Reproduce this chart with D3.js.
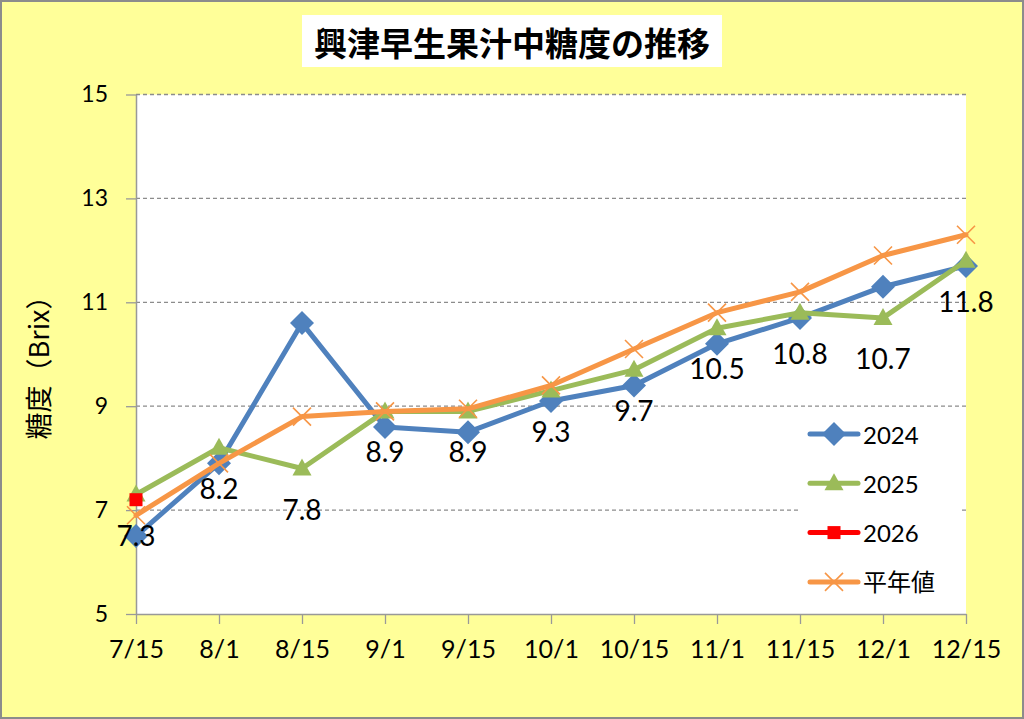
<!DOCTYPE html>
<html><head><meta charset="utf-8">
<script src="https://cdn.jsdelivr.net/npm/d3@7"></script>
<style>
html,body{margin:0;padding:0;background:#fff;}
svg{display:block;}
</style></head>
<body>
<script>
const categories = ["7/15","8/1","8/15","9/1","9/15","10/1","10/15","11/1","11/15","12/1","12/15"];
const s2024 = [6.5,7.9,10.6,8.6,8.5,9.1,9.4,10.2,10.7,11.3,11.7];
const s2025 = [7.3,8.2,7.8,8.9,8.9,9.3,9.7,10.5,10.8,10.7,11.8];
const s2026 = [7.2,null,null,null,null,null,null,null,null,null,null];
const sNormal = [6.9,7.9,8.8,8.9,8.95,9.4,10.1,10.8,11.2,11.9,12.3];
const yTicks = [5,7,9,11,13,15];
const seriesNames = ["2024","2025","2026","平年値"];
const title = "興津早生果汁中糖度の推移";
const yTitle = "糖度（Brix）";

const W = 1024, H = 719;
const numFont = "Lato, 'Noto Sans CJK JP', sans-serif";
const cjkFont = "'Noto Sans CJK JP', sans-serif";
const colors = {"2024":"#4F81BD","2025":"#9BBB59","2026":"#FF0000","平年値":"#F79646"};

const svg = d3.select("body").append("svg").attr("width",W).attr("height",H);
svg.append("rect").attr("x",1).attr("y",1).attr("width",W-2).attr("height",H-2)
  .attr("fill","#FFFF99").attr("stroke","#8c8c8c").attr("stroke-width",2);

// title
svg.append("rect").attr("x",302).attr("y",15).attr("width",420).attr("height",52).attr("fill","#fff");
svg.append("text").attr("x",512).attr("y",42).attr("text-anchor","middle").attr("dominant-baseline","central")
  .attr("font-family",cjkFont).attr("font-weight","bold").attr("font-size",33).attr("fill","#000").text(title);

const x = d3.scalePoint().domain(categories).range([136,966]);
const y = d3.scaleLinear().domain([5,15]).range([614,94.5]);

// plot area
svg.append("rect").attr("x",136).attr("y",y(15)).attr("width",966-136).attr("height",y(5)-y(15)).attr("fill","#fff");

// gridlines
svg.append("g").selectAll("line").data(yTicks.filter(v=>v>5)).join("line")
  .attr("x1",136).attr("x2",966).attr("y1",d=>y(d)).attr("y2",d=>y(d))
  .attr("stroke","#8c8c8c").attr("stroke-width",1.3).attr("stroke-dasharray","4,3");

// y axis
const ya = svg.append("g").attr("transform","translate(136,0)")
  .call(d3.axisLeft(y).tickValues(yTicks).tickSize(10).tickSizeOuter(0).tickPadding(18).tickFormat(d3.format("d")));
ya.select(".domain").attr("stroke","#999").attr("stroke-width",1.5);
ya.selectAll(".tick line").attr("stroke","#999").attr("stroke-width",1.3);
ya.selectAll(".tick text").attr("font-family",numFont).attr("font-size",23).attr("fill","#000");

// x axis
const xa = svg.append("g").attr("transform",`translate(0,${y(5)})`)
  .call(d3.axisBottom(x).tickSize(10).tickSizeOuter(0).tickPadding(16));
xa.select(".domain").attr("stroke","#999").attr("stroke-width",1.5);
xa.selectAll(".tick line").attr("stroke","#999").attr("stroke-width",1.3);
xa.selectAll(".tick text").attr("font-family",numFont).attr("font-size",25).attr("fill","#000");

// y title
svg.append("text").attr("transform","translate(37,361) rotate(-90)").attr("text-anchor","middle")
  .attr("dominant-baseline","central").attr("font-family",cjkFont).attr("font-size",27).attr("fill","#000").text(yTitle);

const line = d3.line().defined(d=>d.v!=null).x(d=>x(d.c)).y(d=>y(d.v));
const toPts = arr => arr.map((v,i)=>({c:categories[i],v:v}));

function marker(g, type, cx, cy, color){
  if(type==="diamond"){
    g.append("path").attr("d",`M${cx},${cy-12}L${cx+12},${cy}L${cx},${cy+12}L${cx-12},${cy}Z`).attr("fill",color);
  } else if(type==="triangle"){
    g.append("path").attr("d",`M${cx},${cy-10}L${cx+9.5},${cy+7}L${cx-9.5},${cy+7}Z`).attr("fill",color);
  } else if(type==="square"){
    g.append("rect").attr("x",cx-6.5).attr("y",cy-6.5).attr("width",13).attr("height",13).attr("fill",color);
  } else if(type==="x"){
    g.append("path").attr("d",`M${cx-9},${cy-9}L${cx+9},${cy+9}M${cx-9},${cy+9}L${cx+9},${cy-9}`)
      .attr("stroke",color).attr("stroke-width",1.6).attr("fill","none");
  }
}

const seriesDefs = [
  {name:"2024",data:s2024,m:"diamond",w:5},
  {name:"2025",data:s2025,m:"triangle",w:5},
  {name:"2026",data:s2026,m:"square",w:5},
  {name:"平年値",data:sNormal,m:"x",w:5}
];

// data labels (2025 values, placed below points) drawn before or after? after lines
const plot = svg.append("g");
seriesDefs.forEach(s=>{
  const g = plot.append("g");
  const pts = toPts(s.data);
  g.append("path").datum(pts).attr("d",line).attr("fill","none").attr("stroke",colors[s.name])
    .attr("stroke-width",s.w).attr("stroke-linejoin","round").attr("stroke-linecap","round");
  pts.filter(d=>d.v!=null).forEach(d=>marker(g,s.m,x(d.c),y(d.v),colors[s.name]));
});

svg.append("g").selectAll("text").data(toPts(s2025)).join("text")
  .attr("x",d=>x(d.c)).attr("y",d=>y(d.v)+40).attr("text-anchor","middle").attr("dominant-baseline","central")
  .attr("font-family",numFont).attr("font-size",28).attr("fill","#000").text(d=>d.v.toFixed(1));

// legend
const lg = svg.append("g");
lg.append("rect").attr("x",800).attr("y",412).attr("width",160).attr("height",192).attr("fill","#fff");
seriesDefs.forEach((s,i)=>{
  const cy = 434 + i*49.3;
  lg.append("line").attr("x1",810).attr("x2",858).attr("y1",cy).attr("y2",cy)
    .attr("stroke",colors[s.name]).attr("stroke-width",5).attr("stroke-linecap","round");
  marker(lg,s.m,834,cy,colors[s.name]);
  lg.append("text").attr("x",863).attr("y",cy).attr("dominant-baseline","central")
    .attr("font-family",numFont).attr("font-size",24).attr("fill","#000").text(s.name);
});
</script>
</body></html>
